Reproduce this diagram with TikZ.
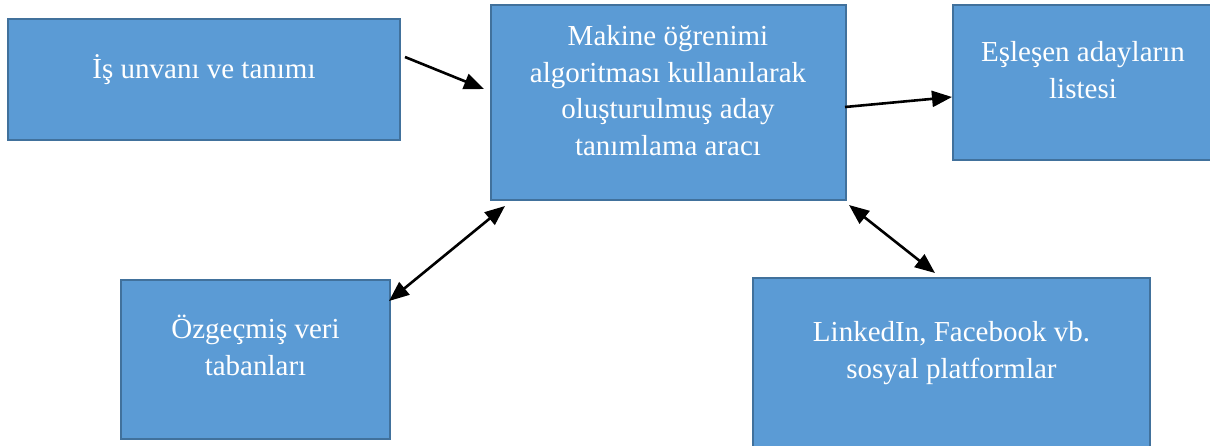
\documentclass[tikz,border=0pt]{standalone}
\usepackage{fontspec}
\setmainfont{Liberation Serif}
\usetikzlibrary{arrows.meta}
\definecolor{boxfill}{HTML}{5B9BD5}
\definecolor{boxline}{HTML}{41719C}
\begin{document}
\begin{tikzpicture}[x=1pt,y=-1pt,
  box/.style={draw=boxline, line width=2pt, fill=boxfill, rectangle, inner sep=0pt},
  lbl/.style={text=white, font=\fontsize{29}{36.5}\selectfont, align=center, anchor=base, inner sep=0pt},
  conn/.style={line width=2.6pt, -{Triangle[length=20pt,width=16pt]}},
  biconn/.style={line width=2.6pt, {Triangle[length=20pt,width=16pt]}-{Triangle[length=20pt,width=16pt]}}]
\useasboundingbox (0,0) rectangle (1210,445);
% boxes
\node[box, minimum width=392pt, minimum height=121pt] (b1) at (204,79.5) {};
\node[box, minimum width=355pt, minimum height=195pt] (b2) at (668.5,102.5) {};
\node[box, minimum width=259pt, minimum height=155pt] (b3) at (1082.5,82.5) {};
\node[box, minimum width=269pt, minimum height=159pt] (b4) at (255.5,359.5) {};
\node[box, minimum width=397pt, minimum height=172pt] (b5) at (951.5,364) {};
% labels (anchor = baseline of last line)
\node[lbl] (t1) at (204,78) {İş unvanı ve tanımı};
\node[lbl] (t2) at (668,155) {Makine öğrenimi\\algoritması kullanılarak\\oluşturulmuş aday\\tanımlama aracı};
\node[lbl] (t3) at (1083,98) {Eşleşen adayların\\listesi};
\node[lbl] (t4) at (255.5,375) {Özgeçmiş veri\\tabanları};
\node[lbl] (t5) at (951.5,378) {LinkedIn, Facebook vb.\\sosyal platformlar};
% connector ends
\coordinate (a1s) at (405,57);
\coordinate (a1e) at (484,89);
\coordinate (a2s) at (845,107);
\coordinate (a2e) at (952,97);
\coordinate (a3s) at (505,206);
\coordinate (a3e) at (389,301);
\coordinate (a4s) at (849,205);
\coordinate (a4e) at (935,273);
\draw[conn] (a1s) -- (a1e);
\draw[conn] (a2s) -- (a2e);
\draw[biconn] (a3s) -- (a3e);
\draw[biconn] (a4s) -- (a4e);
\end{tikzpicture}
\end{document}
